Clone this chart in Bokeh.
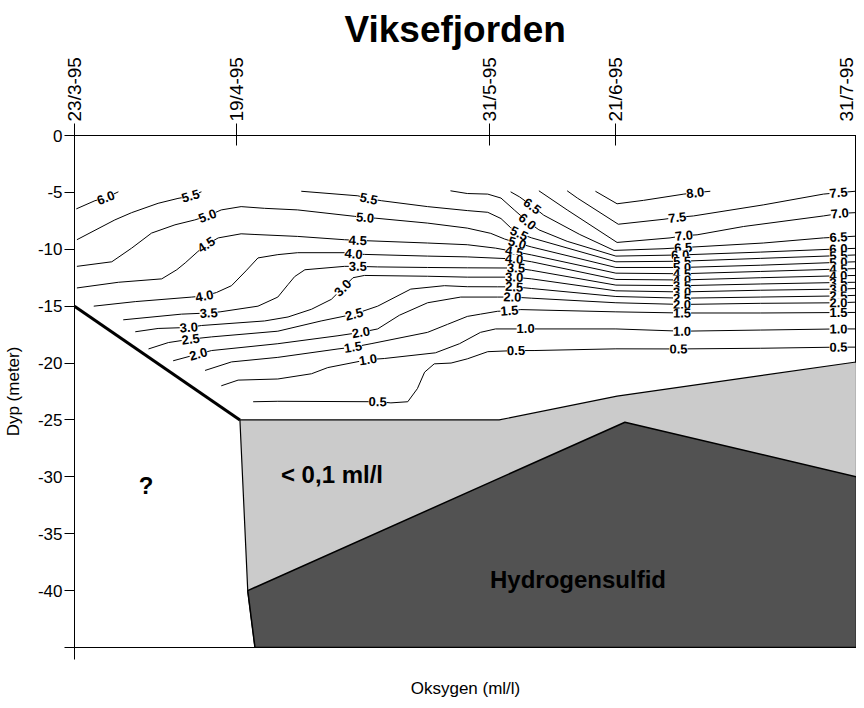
import math
from datetime import date
from bokeh.plotting import figure
from bokeh.models import Range1d, LinearAxis, FixedTicker, ColumnDataSource
from bokeh.core.properties import value
from bokeh.embed import file_html
from bokeh.resources import INLINE

# ---------------- data ----------------
title_text = "Viksefjorden"
station_labels = ["23/3-95", "19/4-95", "31/5-95", "21/6-95", "31/7-95"]
station_dates = [date(1995, 3, 23), date(1995, 4, 19), date(1995, 5, 31),
                 date(1995, 6, 21), date(1995, 7, 31)]
depth_ticks = [0, -5, -10, -15, -20, -25, -30, -35, -40, -45]
depth_min, depth_max = -45, 0

# contour lines: [days since first station, depth (m)]
c80 = [[86.6, -4.9], [90.2, -6.0], [94.6, -5.7], [101.3, -5.15], [103.2, -5.03], [105.7, -4.9]]
c75 = [[81.9, -4.86], [83.6, -5.5], [90.4, -7.8], [98, -7.36], [100.2, -7.2], [102.9, -7.07],
       [114.5, -6.1], [124.5, -5.15], [127, -5.03], [129.8, -4.9]]
c70 = [[77.2, -4.86], [81.9, -6.54], [90.2, -9.4], [99, -9.0], [101.3, -8.8], [103.5, -8.73],
       [111.2, -8.0], [124.5, -7.07], [127.2, -6.85], [129.8, -6.78]]
c65 = [[72.5, -4.95], [74, -5.4], [76.1, -6.2], [78, -7.0], [84, -8.7], [89.7, -10.1], [98, -9.95],
       [101.2, -9.85], [114.5, -9.45], [124.5, -9.0], [127, -8.93], [129.8, -8.85]]
c60a = [[0.3, -6.45], [3.4, -5.73], [5.2, -5.47], [7.3, -4.95]]
c60b = [[62.5, -4.86], [65.3, -5.1], [68.7, -5.15], [70.9, -5.5], [73.1, -6.54], [75.3, -7.56],
        [77.2, -8.29], [81.9, -9.3], [90, -10.6], [100.7, -10.5], [114, -10.25], [127, -9.97],
        [129.8, -9.92]]
c55a = [[0.4, -9.16], [6.7, -7.42], [9.5, -6.78], [13.9, -5.96], [17.2, -5.53], [19.3, -5.32],
        [21.1, -4.95]]
c55b = [[37.7, -4.9], [47.1, -5.3], [48.9, -5.55], [51, -5.73], [58.7, -6.25], [65.3, -6.6],
        [68.7, -6.75], [70.9, -7.3], [72.5, -8.1], [73.9, -8.6], [76, -9.0], [90, -11.1],
        [101, -11.05], [114, -10.8], [127, -10.56], [129.8, -10.5]]
c50 = [[0.4, -11.5], [6.2, -11.1], [9.5, -9.9], [12.8, -8.58], [16.7, -7.85], [20, -7.42],
       [22.1, -7.07], [24.4, -6.54], [27.7, -6.25], [31.6, -6.4], [37.1, -6.54], [46.5, -7.1],
       [48.3, -7.21], [50.1, -7.27], [58.7, -7.7], [65.3, -8.14], [69.2, -8.6], [71.5, -9.1],
       [73.6, -9.45], [76, -9.8], [90, -11.6], [101, -11.6], [114, -11.4], [127, -11.15],
       [129.8, -11.1]]
c45 = [[0.4, -13.4], [7.3, -12.9], [14.5, -12.6], [17, -11.8], [18.4, -11.2], [20.5, -10.2],
       [21.9, -9.6], [23.9, -9.0], [27.7, -8.64], [30, -8.7], [37.1, -8.87], [44.9, -9.16],
       [47.1, -9.22], [58.7, -9.45], [65.3, -9.6], [70, -9.9], [73.1, -10.2], [76, -10.5],
       [90, -12.1], [101, -12.15], [114, -11.95], [127, -11.74], [129.8, -11.7]]
c40 = [[3.2, -15.0], [10.1, -14.6], [19.5, -14.2], [21.6, -14.1], [23.6, -13.8], [26.1, -13.2],
       [28.5, -11.9], [30.5, -10.76], [33.8, -10.47], [37.1, -10.3], [44.9, -10.3], [46.4, -10.4],
       [48.2, -10.45], [58.7, -10.6], [65.3, -10.67], [73.1, -10.85], [76, -11.1], [90, -12.65],
       [101, -12.7], [114, -12.5], [127, -12.33], [129.8, -12.3]]
c35 = [[8.1, -16.2], [17.8, -15.7], [22.3, -15.6], [24.2, -15.5], [30.5, -15.0], [33.8, -14.2],
       [35.5, -13.1], [36.6, -12.4], [38.3, -11.8], [44.9, -11.5], [47.1, -11.5], [50.4, -11.55],
       [58.7, -11.6], [65.3, -11.63], [73.4, -11.65], [76, -11.85], [90, -13.15], [101, -13.2],
       [114, -13.05], [127, -12.92], [129.8, -12.9]]
c30 = [[10.1, -17.25], [13.9, -16.96], [19, -16.87], [21.1, -16.7], [31.6, -16.3], [35.5, -15.95],
       [39.4, -15.27], [42.7, -14.4], [44.6, -13.4], [46.3, -12.5], [48.2, -12.3], [58.7, -12.37],
       [65.3, -12.45], [73.1, -12.45], [76, -12.6], [90, -13.65], [101, -13.75], [114, -13.6],
       [127, -13.5], [129.8, -13.45]]
c25 = [[12.3, -18.76], [15.6, -18.2], [19.3, -17.9], [22.8, -17.7], [33.8, -17.2], [41, -16.3],
       [46.5, -15.7], [50.4, -15.0], [55.9, -13.5], [61.5, -13.2], [65.3, -13.29], [70.3, -13.3],
       [73.1, -13.3], [76, -13.45], [90, -14.15], [101, -14.3], [114, -14.2], [127, -14.1],
       [129.8, -14.05]]
c20 = [[16.4, -19.8], [20.6, -19.2], [22.8, -18.9], [33.8, -18.3], [43.8, -17.6], [47.6, -17.3],
       [50.4, -17.0], [54, -15.8], [58.7, -14.7], [64.2, -14.2], [70.3, -14.2], [72.8, -14.2],
       [76, -14.3], [90, -14.7], [101, -14.85], [114, -14.75], [127, -14.7], [129.8, -14.65]]
c15 = [[21.7, -20.65], [26.1, -19.9], [33.8, -19.5], [43.8, -18.76], [46.3, -18.6], [49.3, -18.3],
       [58.7, -17.3], [62, -16.6], [65.3, -15.9], [67.5, -15.7], [70.3, -15.45], [72.3, -15.4],
       [74.2, -15.3], [90, -15.5], [101, -15.6], [114, -15.6], [127, -15.56], [129.8, -15.55]]
c10 = [[24.4, -22.0], [27.2, -21.5], [33.8, -21.4], [39.4, -20.94], [42.1, -20.4], [48.8, -19.7],
       [51.5, -19.6], [60, -19.1], [64, -18.3], [67.5, -17.3], [70, -17.0], [75, -17.0], [90, -17.0],
       [101, -17.2], [114, -17.1], [127, -17.0], [129.8, -17.0]]
c05 = [[29.7, -23.4], [33.8, -23.36], [50.4, -23.4], [52.6, -23.5], [55.4, -23.4], [57, -22.25],
       [58.2, -20.8], [59.8, -20.07], [62.6, -20.0], [65.3, -19.63], [68.7, -19.0], [73.4, -18.9],
       [76.4, -18.9], [90, -18.75], [100.4, -18.76], [114, -18.7], [127, -18.6], [129.8, -18.6]]

# contour label positions
lab80 = [[103.2, -5.03]]
lab75 = [[100.2, -7.2], [127, -5.03]]
lab70 = [[101.3, -8.8], [127.2, -6.85]]
lab65 = [[76.1, -6.2], [101.2, -9.85], [127, -8.93]]
lab60 = [[5.2, -5.47], [75.3, -7.56], [100.7, -10.5], [127, -9.97]]
lab55 = [[19.3, -5.32], [48.9, -5.55], [73.9, -8.6], [101, -11.05], [127, -10.56]]
lab50 = [[22.1, -7.07], [48.3, -7.21], [73.6, -9.45], [101, -11.6], [127, -11.15]]
lab45 = [[21.9, -9.6], [47.1, -9.22], [73.1, -10.2], [101, -12.15], [127, -11.74]]
lab40 = [[21.6, -14.1], [46.4, -10.4], [73.1, -10.85], [101, -12.7], [127, -12.33]]
lab35 = [[22.3, -15.6], [47.1, -11.5], [73.4, -11.65], [101, -13.2], [127, -12.92]]
lab30 = [[19, -16.87], [44.6, -13.4], [73.1, -12.45], [101, -13.75], [127, -13.5]]
lab25 = [[19.3, -17.9], [46.5, -15.7], [73.1, -13.3], [101, -14.3], [127, -14.1]]
lab20 = [[20.6, -19.2], [47.6, -17.3], [72.8, -14.2], [101, -14.85], [127, -14.7]]
lab15 = [[46.3, -18.6], [72.3, -15.4], [101, -15.6], [127, -15.56]]
lab10 = [[48.8, -19.7], [75, -17.0], [101, -17.2], [127, -17.0]]
lab05 = [[50.4, -23.4], [73.4, -18.9], [100.4, -18.76], [127, -18.6]]

levels = [8.0, 7.5, 7.0, 6.5, 6.0, 5.5, 5.0, 4.5, 4.0, 3.5, 3.0, 2.5, 2.0, 1.5, 1.0, 0.5]
level_lines = [[c80], [c75], [c70], [c65], [c60a, c60b], [c55a, c55b], [c50], [c45], [c40],
               [c35], [c30], [c25], [c20], [c15], [c10], [c05]]
level_labels = [lab80, lab75, lab70, lab65, lab60, lab55, lab50, lab45, lab40, lab35, lab30,
                lab25, lab20, lab15, lab10, lab05]

# bottom line of sampled area and the anoxic zones
slope_x = [0, 27.5]
slope_y = [-15, -25]
low_o2_x = [27.5, 70.6, 90.2, 130, 130, 30, 28.8]
low_o2_y = [-25, -25, -22.9, -19.9, -45, -45, -40]
h2s_x = [28.8, 91.5, 130, 130, 30]
h2s_y = [-40, -25.2, -30, -45, -45]
zone_texts = ["?", "< 0,1 ml/l", "Hydrogensulfid"]
zone_x = [11.9, 42.8, 83.7]
zone_y = [-30.8, -29.8, -39.0]

# ---------------- figure ----------------
FONT = "Liberation Sans"
station_days = [(d - station_dates[0]).days for d in station_dates]
span = station_days[-1]

W, H = 856, 700
BL, BR, BT, BB = 68, 0, 135, 50
p = figure(width=W, height=H, output_backend="svg", toolbar_location=None,
           x_range=Range1d(0, span), y_range=Range1d(depth_min, depth_max),
           min_border_left=BL, min_border_right=BR, min_border_top=BT, min_border_bottom=BB)
p.grid.visible = False
p.outline_line_color = "black"
p.outline_line_width = 1
p.background_fill_color = "white"

p.title.text = title_text
p.title.align = "left"
p.title.offset = 270
p.title.text_font = FONT
p.title.text_font_size = "37px"
p.title.text_font_style = "bold"
p.title.text_color = "black"
p.title.text_line_height = 0.9
p.title.standoff = 10

# left axis
ya = p.yaxis[0]
ya.ticker = FixedTicker(ticks=depth_ticks)
ya.major_label_overrides = {t: ("" if t == depth_ticks[-1] else str(t)) for t in depth_ticks}
ya.major_tick_out = 10
ya.major_tick_in = 0
ya.minor_tick_out = 0
ya.minor_tick_in = 0
ya.major_label_standoff = 2
ya.major_label_text_font = FONT
ya.major_label_text_font_size = "17px"
ya.major_label_text_color = "black"
ya.axis_label = "Dyp (meter)"
ya.axis_label_text_font = FONT
ya.axis_label_text_font_size = "17px"
ya.axis_label_text_font_style = "normal"
ya.axis_label_text_color = "black"
ya.axis_label_standoff = 12
ya.axis_line_color = "black"

# bottom axis
xa = p.xaxis[0]
xa.ticker = FixedTicker(ticks=[station_days[0], station_days[-1] - 0.05])
xa.major_label_overrides = {station_days[0]: "", station_days[-1] - 0.05: ""}
xa.major_tick_out = 12
xa.major_tick_in = 0
xa.minor_tick_out = 0
xa.minor_tick_in = 0
xa.major_label_standoff = 0
xa.major_label_text_font_size = "1px"
xa.axis_label = "Oksygen (ml/l)"
xa.axis_label_text_font = FONT
xa.axis_label_text_font_size = "17px"
xa.axis_label_text_font_style = "normal"
xa.axis_label_text_color = "black"
xa.axis_label_text_line_height = 0.9
xa.axis_label_standoff = 19

# top axis with sampling dates
ta = LinearAxis(ticker=FixedTicker(ticks=station_days),
                major_label_overrides={d: s for d, s in zip(station_days, station_labels)})
ta.major_label_orientation = math.pi / 2
ta.major_tick_out = 12
ta.major_tick_in = 10
ta.minor_tick_out = 0
ta.minor_tick_in = 0
ta.major_label_standoff = 2
ta.major_label_text_font = FONT
ta.major_label_text_font_size = "19px"
ta.major_label_text_color = "black"
p.add_layout(ta, "above")

# zones
p.patch(low_o2_x, low_o2_y, fill_color="#cbcbcb", line_color="black", line_width=1.2)
p.patch(h2s_x, h2s_y, fill_color="#525252", line_color="black", line_width=1.5)
p.line(slope_x, slope_y, line_color="black", line_width=3)

# contour lines
PX_X = 784 / span
PX_Y = 515 / (depth_max - depth_min)
xs, ys = [], []
for pieces in level_lines:
    for piece in pieces:
        xs.append([pt[0] for pt in piece])
        ys.append([pt[1] for pt in piece])
p.multi_line(xs, ys, line_color="black", line_width=1)


def label_angle(pieces, pt):
    best = None
    for piece in pieces:
        for i, q in enumerate(piece):
            dd = ((q[0] - pt[0]) * PX_X) ** 2 + ((q[1] - pt[1]) * PX_Y) ** 2
            if best is None or dd < best[0]:
                best = (dd, piece, i)
    _, piece, i = best
    a = piece[max(i - 1, 0)]
    b = piece[min(i + 1, len(piece) - 1)]
    return math.atan2((b[1] - a[1]) * PX_Y, (b[0] - a[0]) * PX_X)


lx, ly, lt, la = [], [], [], []
for lev, pieces, labs in zip(levels, level_lines, level_labels):
    for pt in labs:
        lx.append(pt[0])
        ly.append(pt[1])
        lt.append(f"{lev:.1f}")
        la.append(label_angle(pieces, pt))
src = ColumnDataSource(dict(x=lx, y=ly, text=lt, angle=la))
p.text(x="x", y="y", text="text", angle="angle", source=src,
       text_align="center", text_baseline="middle",
       text_font=value(FONT), text_font_size="13px", text_font_style="bold",
       text_color="black", background_fill_color="white", padding=0)

p.text(x=zone_x, y=zone_y, text=zone_texts, text_align="center", text_baseline="middle",
       text_font=value(FONT), text_font_size="24px", text_font_style="bold",
       text_color="black")

open("out.html", "w").write(file_html(p, INLINE))
